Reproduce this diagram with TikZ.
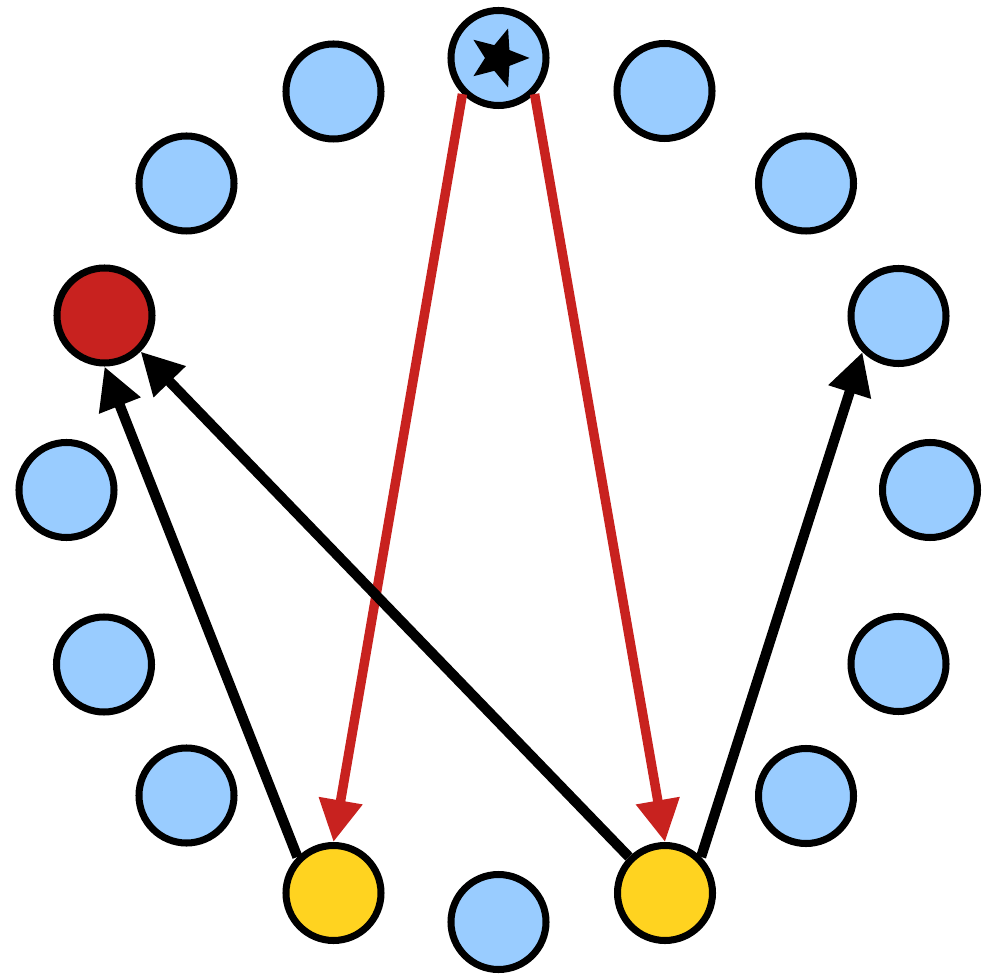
\documentclass[tikz,border=0pt]{standalone}
\usetikzlibrary{arrows.meta,shapes.geometric}

\definecolor{nodeblue}{HTML}{99CCFF}
\definecolor{nodered}{HTML}{C8221F}
\definecolor{nodeyellow}{HTML}{FFD320}

\begin{document}
\begin{tikzpicture}[
        vtx/.style={circle, draw, line width=2pt, minimum size=0.95cm, inner sep=0pt, fill=nodeblue},
        blackarrow/.style={-{Triangle[length=4.2mm, width=4.2mm]}, line width=2.9pt},
        redarrow/.style={-{Triangle[length=4.2mm, width=4.2mm]}, line width=2.7pt, draw=nodered, color=nodered}
    ]
        \useasboundingbox (-4.985,-4.86) rectangle (4.895,4.90);

        \node(n0) at (0,4.32) [vtx] {};
        \node(n1) at (1.66,3.99) [vtx] {};
        \node(n2) at (3.075,3.065) [vtx] {};
        \node(n3) at (4.00,1.74) [vtx] {};
        \node(n4) at (4.315,0) [vtx] {};
        \node(n5) at (4.00,-1.74) [vtx] {};
        \node(n6) at (3.075,-3.06) [vtx] {};
        \node(n7) at (1.665,-4.03) [vtx, fill=nodeyellow] {};
        \node(n8) at (0,-4.32) [vtx] {};
        \node(n9) at (-1.65,-4.03) [vtx, fill=nodeyellow] {};
        \node(n10) at (-3.12,-3.055) [vtx] {};
        \node(n11) at (-3.945,-1.745) [vtx] {};
        \node(n12) at (-4.32,0) [vtx] {};
        \node(n13) at (-3.94,1.745) [vtx, fill=nodered] {};
        \node(n14) at (-3.12,3.065) [vtx] {};
        \node(n15) at (-1.65,3.985) [vtx] {};

        \node(star) at (n0) [star, star points=5, star point ratio=2.3, shape border rotate=-18, fill=black, minimum size=0.62cm, inner sep=0pt] {};

        \draw[redarrow] (n0.south west) -- (n9.north);
        \draw[redarrow] (n0.south east) -- (n7.north);

        \draw[blackarrow] (n9.north west) -- (n13.south);
        \draw[blackarrow] (n7.north west) -- (n13.south east);
        \draw[blackarrow] (n7.north east) -- (n3.south west);

    \end{tikzpicture}
\end{document}
